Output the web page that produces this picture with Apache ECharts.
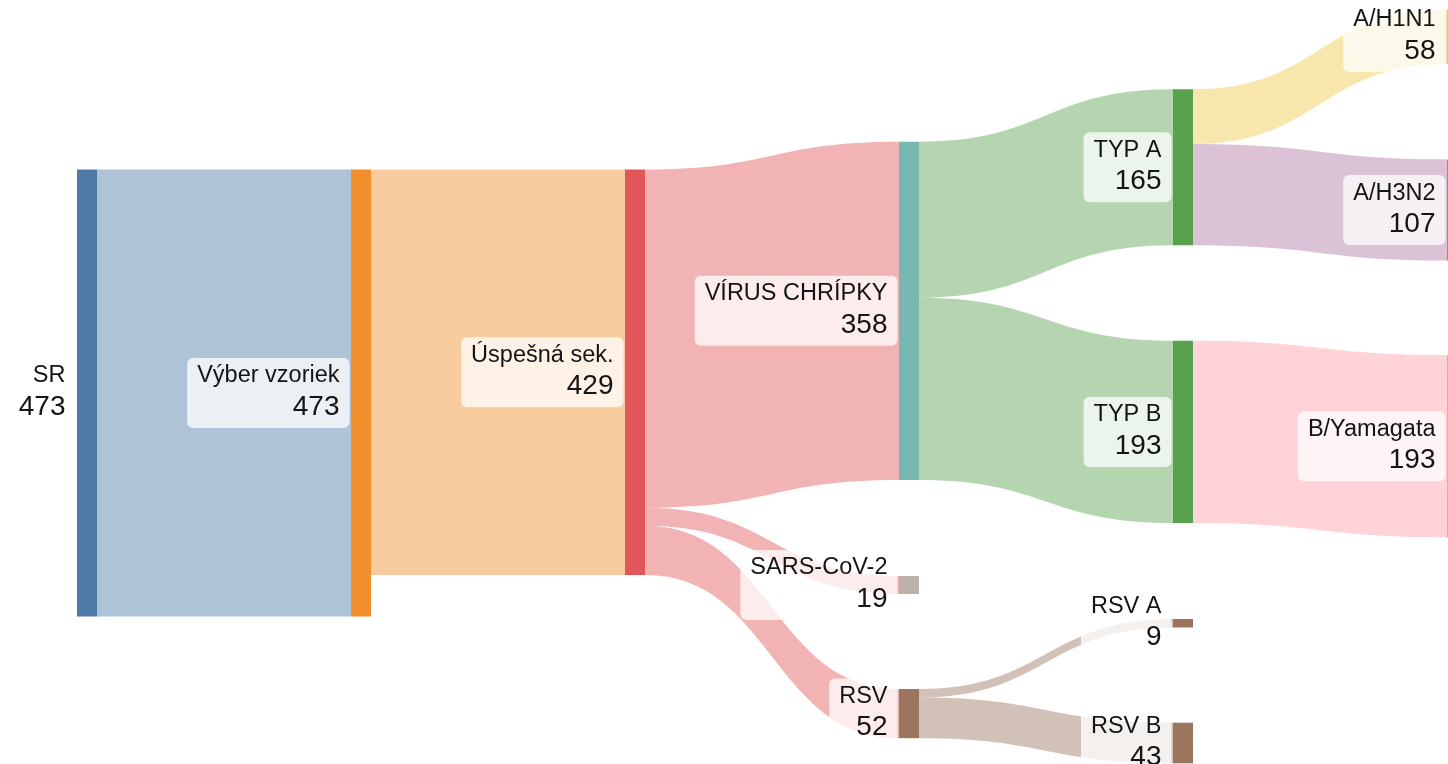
<!DOCTYPE html>
<html>
<head>
<meta charset="utf-8">
<title>Sekvenovanie vzoriek – sankey</title>
<script src="https://cdn.jsdelivr.net/npm/echarts@6/dist/echarts.min.js"></script>
<style>
  html, body { margin: 0; padding: 0; background: #ffffff; }
  #chart { width: 1448px; height: 764px; }
</style>
</head>
<body>
<div id="chart"></div>
<script>
// Nodes of the flow and the totals shown in their labels
const nodeNames = [
  'SR', 'Výber vzoriek', 'Úspešná sek.',
  'VÍRUS CHRÍPKY', 'SARS-CoV-2', 'RSV',
  'TYP A', 'TYP B', 'RSV A', 'RSV B',
  'A/H1N1', 'A/H3N2', 'B/Yamagata'
];
const nodeValues = [473, 473, 429, 358, 19, 52, 165, 193, 9, 43, 58, 107, 193];

// Flows between nodes
const linkSource = [
  'SR', 'Výber vzoriek', 'Úspešná sek.', 'Úspešná sek.', 'Úspešná sek.',
  'VÍRUS CHRÍPKY', 'VÍRUS CHRÍPKY', 'TYP A', 'TYP A', 'TYP B', 'RSV', 'RSV'
];
const linkTarget = [
  'Výber vzoriek', 'Úspešná sek.', 'VÍRUS CHRÍPKY', 'SARS-CoV-2', 'RSV',
  'TYP A', 'TYP B', 'A/H1N1', 'A/H3N2', 'B/Yamagata', 'RSV A', 'RSV B'
];
const linkValues = [473, 429, 358, 19, 52, 165, 193, 58, 107, 193, 9, 43];

// Styling: node colours, which end colours each flow, node vertical placement
const nodeColors = [
  '#4e79a7', '#f28e2b', '#e15759',
  '#76b7b2', '#bab0ac', '#9c755f',
  '#59a14f', '#59a14f', '#9c755f', '#9c755f',
  '#edc948', '#b07aa1', '#ff9da7'
];
const linkTint = [
  'source', 'source', 'source', 'source', 'source',
  'target', 'target', 'target', 'target', 'target', 'source', 'source'
];
// vertical placement of each node, as a fraction of the layout height
const nodeLocalY = [
  0, 0, 0,
  -0.0622, 0.9094, 1.1622,
  -0.1794, 0.3830, 1.0056, 1.2376,
  -0.3580, -0.0224, 0.4150
];

const chart = echarts.init(document.getElementById('chart'), null, { renderer: 'canvas' });

const nodes = nodeNames.map((name, i) => ({
  name: name,
  value: nodeValues[i],
  localY: nodeLocalY[i],
  itemStyle: { color: nodeColors[i] }
}));

const links = linkSource.map((s, i) => ({
  source: s,
  target: linkTarget[i],
  value: linkValues[i],
  lineStyle: { color: linkTint[i] }
}));

const labelFont = 'Liberation Sans, Arial, sans-serif';

chart.setOption({
  backgroundColor: '#ffffff',
  animation: false,
  series: [{
    type: 'sankey',
    left: 77,
    top: 169.5,
    width: 1390,
    height: 447,
    nodeWidth: 20,
    nodeGap: 8,
    nodeAlign: 'left',
    layoutIterations: 0,
    draggable: false,
    emphasis: { disabled: true },
    itemStyle: { borderWidth: 0 },
    lineStyle: { opacity: 0.45, curveness: 0.5 },
    label: {
      position: 'left',
      distance: 1.5,
      backgroundColor: 'rgba(255,255,255,0.75)',
      borderRadius: 6,
      padding: [4, 10],
      formatter: p => '{n|' + p.name + '}\n{v|' + nodeValues[p.dataIndex] + '}',
      rich: {
        n: { fontFamily: labelFont, fontSize: 23.5, lineHeight: 28, color: '#141414', align: 'right' },
        v: { fontFamily: labelFont, fontSize: 28, lineHeight: 34, color: '#141414', align: 'right' }
      }
    },
    data: nodes,
    links: links
  }]
});
</script>
</body>
</html>
